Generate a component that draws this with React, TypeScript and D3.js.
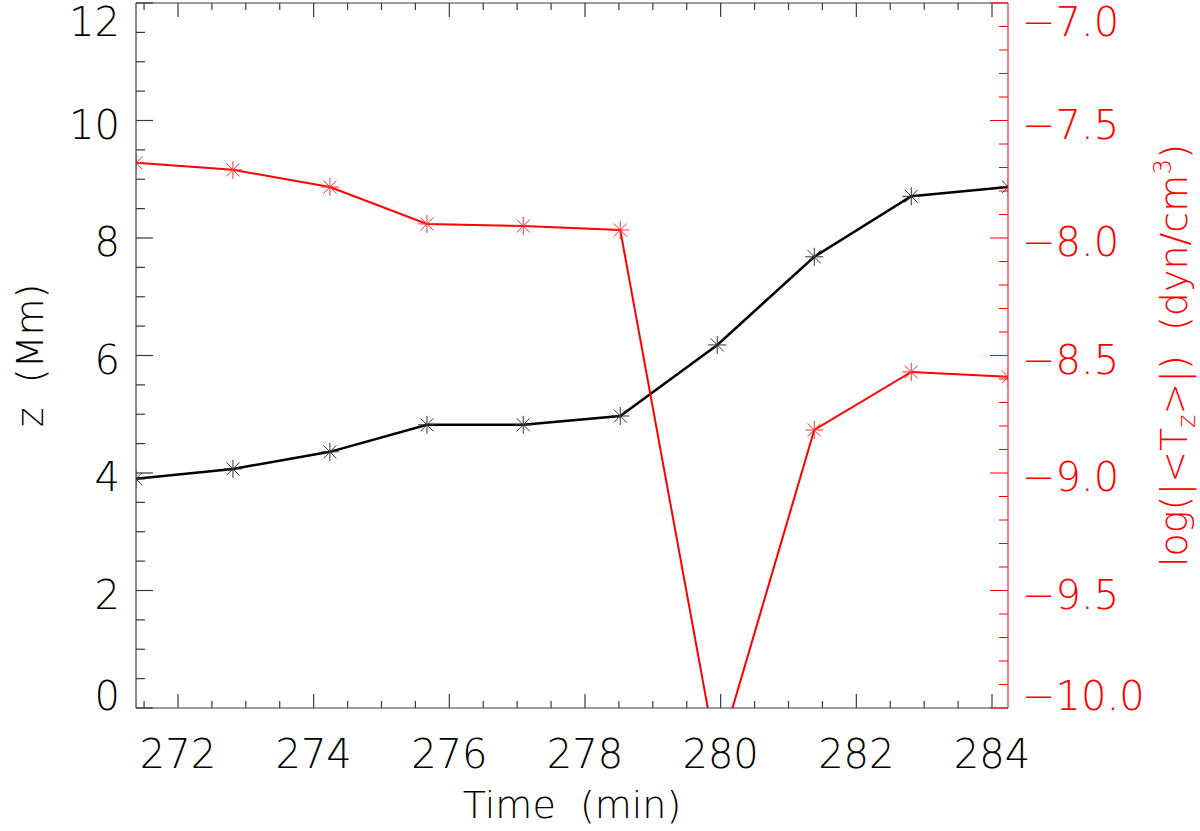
import { useEffect } from 'react';
import * as d3 from 'd3';

const AXIS_INK = '#3a3a3a';
const RED = '#ff0000';
const FONT = '"DejaVu Sans", Lato, sans-serif';

// time stamps (min) and the two series
const times = [271.38, 272.81, 274.24, 275.67, 277.09, 278.52, 279.95, 281.38, 282.81, 284.24];
const heightMm = [3.9, 4.07, 4.36, 4.82, 4.82, 4.97, 6.18, 7.68, 8.71, 8.87];
const logTorque = [-7.68, -7.71, -7.783, -7.94, -7.949, -7.966, -10.22, -8.817, -8.57, -8.591];

const xMajor = [272, 274, 276, 278, 280, 282, 284];
const yLeftMajor = [0, 2, 4, 6, 8, 10, 12];
const yRightMajor = [-10.0, -9.5, -9.0, -8.5, -8.0, -7.5, -7.0];

const W = 1200;
const H = 831;
const plot = { left: 136, right: 1008, top: 3, bottom: 708 };

function Asterisk({ x, y, color }: { x: number; y: number; color: string }) {
  const r = 9;
  const d = r * 0.72;
  return (
    <g stroke={color} strokeWidth={1}>
      <line x1={x} y1={y - r} x2={x} y2={y + r} />
      <line x1={x - d} y1={y - d} x2={x + d} y2={y + d} />
      <line x1={x - d} y1={y + d} x2={x + d} y2={y - d} />
      <line x1={x - r} y1={y} x2={x + r} y2={y} />
    </g>
  );
}

export default function App() {
  useEffect(() => {
    document.body.style.margin = '0';
  }, []);

  const x = d3.scaleLinear().domain([271.381, 284.236]).range([plot.left, plot.right]);
  const yL = d3.scaleLinear().domain([0, 12]).range([plot.bottom, plot.top]);
  const yR = d3.scaleLinear().domain([-10, -7]).range([plot.bottom, plot.top]);

  const xMinor = d3.range(271.5, 284.01, 0.5).filter((v) => !xMajor.includes(v));
  const yLeftMinor = d3.range(0, 12.01, 0.5).filter((v) => !yLeftMajor.includes(v));
  const yRightMinor = d3
    .range(-10, -6.99, 0.1)
    .map((v) => Math.round(v * 10) / 10)
    .filter((v) => !yRightMajor.some((m) => Math.abs(m - v) < 1e-6));

  const blackLine = d3
    .line<number>()
    .x((_, i) => x(times[i]))
    .y((v) => yL(v))(heightMm)!;
  const redLine = d3
    .line<number>()
    .x((_, i) => x(times[i]))
    .y((v) => yR(v))(logTorque)!;

  // IDL keeps the end labels inside the frame
  const labelY = (ty: number) => Math.min(Math.max(ty + 3, 21), 695) + 15;
  const fmtR = (v: number) => (v < 0 ? '\u2212' : '') + Math.abs(v).toFixed(1);

  return (
    <svg
      width={W}
      height={H}
      style={{ display: 'block', position: 'absolute', left: 0, top: 0 }}
      fontFamily={FONT}
      fontWeight={200}
    >
      <rect width={W} height={H} fill="#ffffff" />
      <defs>
        <clipPath id="plot-clip">
          <rect x={plot.left} y={plot.top} width={plot.right - plot.left} height={plot.bottom - plot.top} />
        </clipPath>
      </defs>

      {/* data */}
      <g clipPath="url(#plot-clip)">
        <path d={blackLine} fill="none" stroke="#000" strokeWidth={2.5} />
        {heightMm.map((v, i) => (
          <Asterisk key={`b${i}`} x={x(times[i])} y={yL(v)} color="#333" />
        ))}
        <path d={redLine} fill="none" stroke={RED} strokeWidth={2} />
        {logTorque.map((v, i) => (
          <Asterisk key={`r${i}`} x={x(times[i])} y={yR(v)} color="#ff3333" />
        ))}
      </g>

      {/* bottom + top axes */}
      <g stroke={AXIS_INK} strokeWidth={1.2}>
        <line x1={plot.left} x2={plot.right} y1={plot.bottom} y2={plot.bottom} />
        <line x1={plot.left} x2={plot.right} y1={plot.top} y2={plot.top} />
        <line x1={plot.left} x2={plot.left} y1={plot.top} y2={plot.bottom} />
        {xMajor.map((t) => (
          <g key={`xm${t}`}>
            <line x1={x(t)} x2={x(t)} y1={plot.bottom} y2={plot.bottom - 14} />
            <line x1={x(t)} x2={x(t)} y1={plot.top} y2={plot.top + 14} />
          </g>
        ))}
        {xMinor.map((t) => (
          <g key={`xn${t}`}>
            <line x1={x(t)} x2={x(t)} y1={plot.bottom} y2={plot.bottom - 7} />
            <line x1={x(t)} x2={x(t)} y1={plot.top} y2={plot.top + 7} />
          </g>
        ))}
        {yLeftMajor.map((t) => (
          <line key={`ylm${t}`} x1={plot.left} x2={plot.left + 17} y1={yL(t)} y2={yL(t)} />
        ))}
        {yLeftMinor.map((t) => (
          <line key={`yln${t}`} x1={plot.left} x2={plot.left + 9} y1={yL(t)} y2={yL(t)} />
        ))}
      </g>

      {/* right axis in red */}
      <g stroke={RED} strokeWidth={1}>
        <line x1={plot.right} x2={plot.right} y1={plot.top} y2={plot.bottom} />
        {yRightMajor.map((t) => (
          <line key={`yrm${t}`} x1={plot.right} x2={plot.right - 18} y1={yR(t)} y2={yR(t)} />
        ))}
        {yRightMinor.map((t) => (
          <line key={`yrn${t}`} x1={plot.right} x2={plot.right - 9} y1={yR(t)} y2={yR(t)} />
        ))}
      </g>

      {/* tick labels */}
      <g fontSize={40} fill="#000">
        {xMajor.map((t) => (
          <text key={`xl${t}`} x={x(t)} y={768} textAnchor="middle">
            {t}
          </text>
        ))}
        {yLeftMajor.map((t) => (
          <text key={`yll${t}`} x={120} y={labelY(yL(t))} textAnchor="end">
            {t}
          </text>
        ))}
      </g>
      <g fontSize={40} fill={RED}>
        {yRightMajor.map((t) => (
          <text key={`yrl${t}`} x={1022} y={labelY(yR(t))} textAnchor="start">
            {fmtR(t)}
          </text>
        ))}
      </g>

      {/* axis titles */}
      <text x={(plot.left + plot.right) / 2} y={818} textAnchor="middle" fontSize={38} fill="#000" style={{ whiteSpace: 'pre' }}>
        {'Time  (min)'}
      </text>
      <text
        transform={`translate(43,${(plot.top + plot.bottom) / 2}) rotate(-90)`}
        textAnchor="middle"
        fontSize={38}
        fill="#000"
        style={{ whiteSpace: 'pre' }}
      >
        {'z  (Mm)'}
      </text>
      <text
        transform={`translate(1187,${(plot.top + plot.bottom) / 2}) rotate(-90)`}
        textAnchor="middle"
        fontSize={38}
        fill={RED}
        style={{ whiteSpace: 'pre' }}
      >
        <tspan>{'log(|<T'}</tspan>
        <tspan fontSize={25} dy={8}>z</tspan>
        <tspan dy={-8}>{'>|)  (dyn/cm'}</tspan>
        <tspan fontSize={25} dy={-16}>3</tspan>
        <tspan dy={16}>)</tspan>
      </text>
    </svg>
  );
}
